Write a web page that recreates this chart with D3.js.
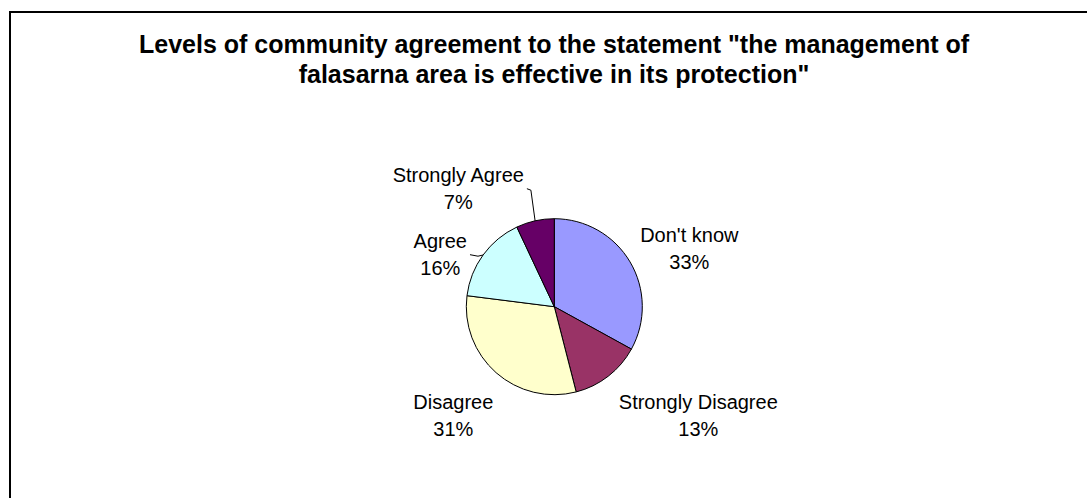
<!DOCTYPE html>
<html>
<head>
<meta charset="utf-8">
<script src="https://cdn.jsdelivr.net/npm/d3@7"></script>
<style>
  html, body { margin: 0; padding: 0; background: #fff; }
  svg { display: block; }
  text { font-family: Arial, "Liberation Sans", sans-serif; fill: #000; }
</style>
</head>
<body>
<svg id="chart" width="1087" height="498"></svg>
<script>
// Survey responses
const categories = ["Don't know", "Strongly Disagree", "Disagree", "Agree", "Strongly Agree"];
const shares = [33, 13, 31, 16, 7];
const sliceColors = ["#9999FF", "#993366", "#FFFFCC", "#CCFFFF", "#660066"];
const titleLines = [
  "Levels of community agreement to the statement \"the management of",
  "falasarna area is effective in its protection\""
];

const W = 1087, H = 498;
const svg = d3.select("#chart");

// Chart area frame
svg.append("rect")
  .attr("x", 10).attr("y", 12)
  .attr("width", 1100).attr("height", 500)
  .attr("fill", "#fff")
  .attr("stroke", "#000")
  .attr("stroke-width", 2);

// Title
const title = svg.append("text")
  .attr("text-anchor", "middle")
  .attr("font-size", 25)
  .attr("font-weight", "bold");
titleLines.forEach((t, i) => {
  title.append("tspan").attr("x", 554).attr("y", 53 + i * 30).text(t);
});

// Pie
const cx = 554.3, cy = 306.7, R = 88;
const data = categories.map((c, i) => ({ name: c, value: shares[i], color: sliceColors[i] }));
const pie = d3.pie().value(d => d.value).sort(null);
const arcs = pie(data);
const arc = d3.arc().innerRadius(0).outerRadius(R);
const edgeArc = d3.arc().innerRadius(R).outerRadius(R);

const g = svg.append("g").attr("transform", `translate(${cx},${cy})`);
g.selectAll("path.slice")
  .data(arcs)
  .join("path")
  .attr("class", "slice")
  .attr("d", arc)
  .attr("fill", d => d.data.color)
  .attr("stroke", "#000")
  .attr("stroke-width", 1);

// Data labels: name on the first line, percentage on the second.
// Offsets place each label block's centre relative to the pie centre.
const labelOffsets = {
  "Don't know": [135, -58],
  "Strongly Disagree": [144, 109],
  "Disagree": [-101, 109],
  "Agree": [-114, -52],
  "Strongly Agree": [-96, -118]
};
const lineGap = 27.5;
const fmt = d => d.value + "%";

arcs.forEach(a => {
  const [dx, dy] = labelOffsets[a.data.name];
  const x = cx + dx;
  const base = cy + dy - 7;
  const t = svg.append("text")
    .attr("text-anchor", "middle")
    .attr("font-size", 20);
  t.append("tspan").attr("x", x).attr("y", base).text(a.data.name);
  t.append("tspan").attr("x", x).attr("y", base + lineGap).text(fmt(a.data));

  // Leader lines for the small slices on the upper left
  if (a.data.name === "Agree" || a.data.name === "Strongly Agree") {
    const bb = t.node().getBBox();
    const firstW = t.select("tspan").node().getComputedTextLength();
    const sx = x + firstW / 2 + 3;
    const sy = base + 7;
    const [ex, ey] = edgeArc.centroid(a);
    const pts = [[sx, sy], [sx + (a.data.name === "Agree" ? 8 : 4), sy + 1.5], [cx + ex, cy + ey]];
    svg.append("path")
      .attr("d", d3.line()(pts))
      .attr("fill", "none")
      .attr("stroke", "#000")
      .attr("stroke-width", 1);
  }
});
</script>
</body>
</html>
